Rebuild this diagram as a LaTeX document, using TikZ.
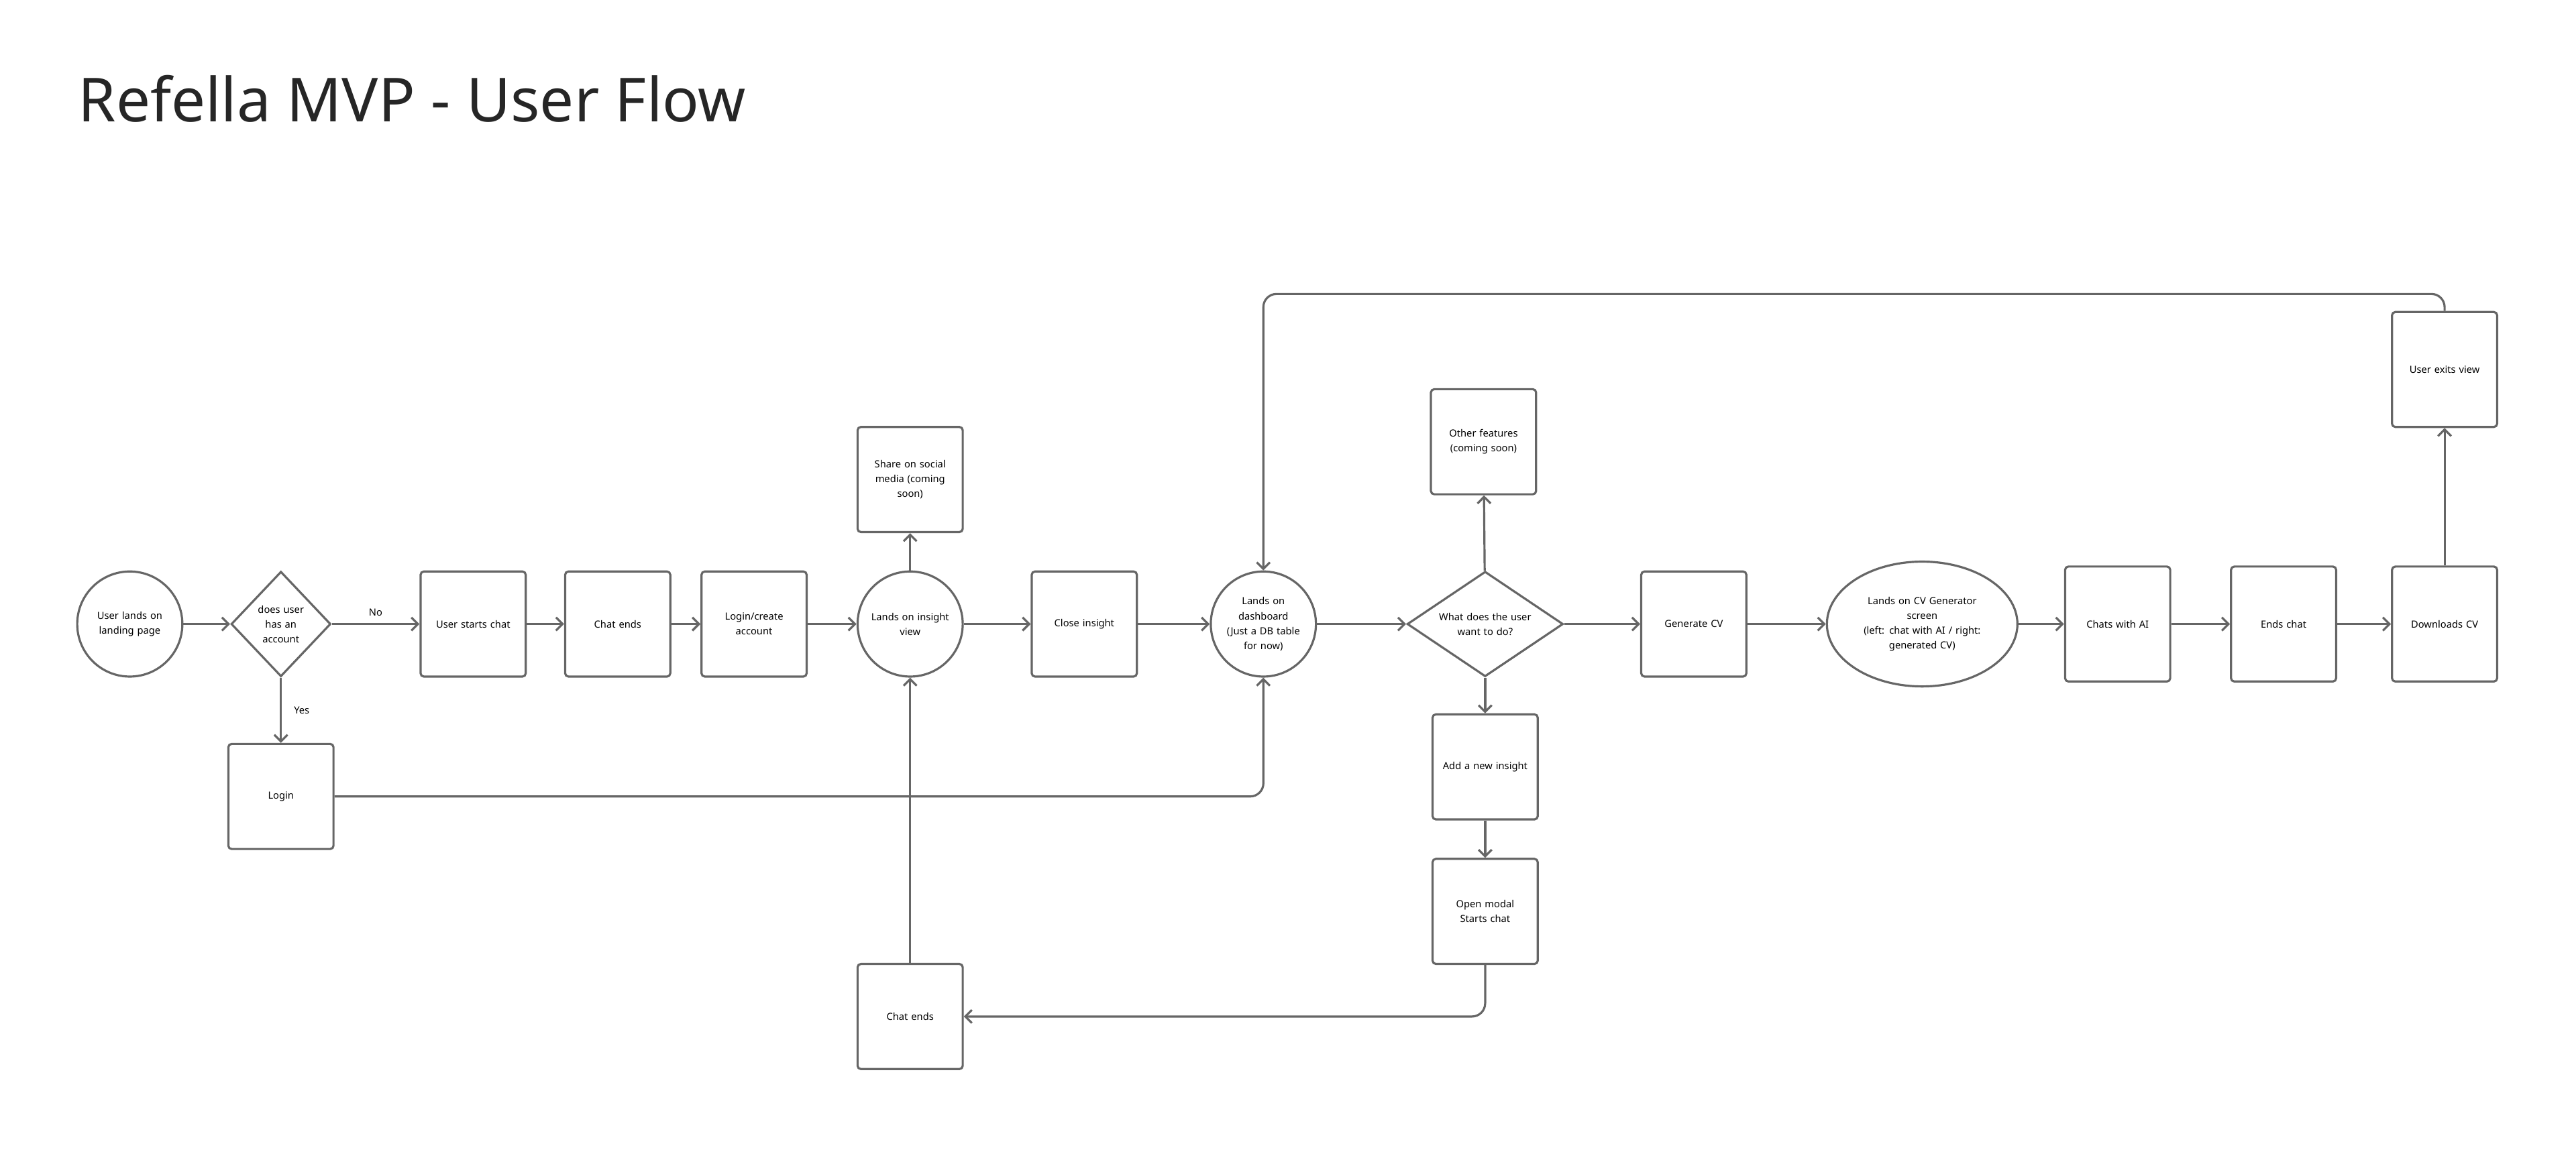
\documentclass[tikz,border=0pt]{standalone}
\usepackage{fontspec}
\setmainfont{Noto Sans}
\usetikzlibrary{arrows.meta,shapes.geometric,positioning}

\begin{document}
\begin{tikzpicture}[
  x=1pt, y=-1pt,
  line width=1.3pt,
  base/.style = {
    draw=black!60,
    fill=white,
    align=center,
    inner sep=1pt,
    font=\fontsize{6}{9}\selectfont
  },
  box/.style = {base, rectangle, rounded corners=2pt,
    minimum width=64pt, minimum height=#1, text width=58pt},
  box/.default = 64pt,
  circ/.style = {base, circle, minimum size=64pt, text width=50pt},
  dia/.style = {base, diamond, aspect=#1, minimum height=64pt},
  arr/.style = {draw=black!60, -{Straight Barb[length=4pt,width=8pt]}},
  lbl/.style = {font=\fontsize{6}{8}\selectfont},
  ]
  \useasboundingbox (0,0) rectangle (1568,700);
  \node[anchor=base west, font=\fontsize{37}{40}\selectfont, text=black!85, inner sep=0pt]
    (title) at (47,74) {Refella MVP - User Flow};

  % main row
  \node[circ] (landing) at (79,380) {User lands on\\landing page};
  \node[dia=1, text width=34pt] (hasAccount) at (171,380) {does user\\has an\\account};
  \node[box] (startChat) at (288,380) {User starts chat};
  \node[box] (chatEnds) at (376,380) {Chat ends};
  \node[box] (createAcc) at (459,380) {Login/create\\account};
  \node[circ] (insight) at (554,380) {Lands on insight\\view};
  \node[box] (closeInsight) at (660,380) {Close insight};
  \node[circ] (dashboard) at (769,380) {Lands on\\dashboard\\(Just a DB table\\for now)};
  \node[dia=1.85, text width=64pt] (userWants) at (904,380) {What does the user\\want to do?};
  \node[box] (genCV) at (1031,380) {Generate CV};
  \node[base, ellipse, minimum width=112pt, minimum height=76pt, text width=80pt]
    (cvScreen) at (1170,380) {Lands on CV Generator\\screen\\(left: chat with AI / right:\\generated CV)};
  \node[box=70pt] (chatsAI) at (1289,380) {Chats with AI};
  \node[box=70pt] (endsChat) at (1390,380) {Ends chat};
  \node[box=70pt] (download) at (1488,380) {Downloads CV};

  % branches
  \node[box] (login) at (171,485) {Login};
  \node[box] (share) at (554,292) {Share on social\\media (coming\\soon)};
  \node[box] (otherFeat) at (903,269) {Other features\\(coming soon)};
  \node[box] (addInsight) at (904,467) {Add a new insight};
  \node[box] (openModal) at (904,555) {Open modal\\Starts chat};
  \node[box] (chatEnds2) at (554,619) {Chat ends};
  \node[box=70pt] (exitView) at (1488,225) {User exits view};

  \coordinate (loopTop) at (1488,179);
  \coordinate (loginCorner) at (769,485);
  \coordinate (modalCorner) at (904,619);

  \draw[arr] (landing) -- (hasAccount);
  \draw[arr] (hasAccount) -- node[lbl, above=1pt] {No} (startChat);
  \draw[arr] (hasAccount) -- node[lbl, right=4pt] {Yes} (login);
  \draw[arr] (startChat) -- (chatEnds);
  \draw[arr] (chatEnds) -- (createAcc);
  \draw[arr] (createAcc) -- (insight);
  \draw[arr] (insight) -- (share);
  \draw[arr] (insight) -- (closeInsight);
  \draw[arr] (closeInsight) -- (dashboard);
  \draw[arr] (dashboard) -- (userWants);
  \draw[arr] (userWants) -- (otherFeat);
  \draw[arr] (userWants) -- (addInsight);
  \draw[arr] (userWants) -- (genCV);
  \draw[arr] (addInsight) -- (openModal);
  \draw[arr, rounded corners=8pt] (openModal) |- (chatEnds2);
  \draw[arr] (chatEnds2) -- (insight);
  \draw[arr, rounded corners=8pt] (login) -- (loginCorner) -- (dashboard);
  \draw[arr] (genCV) -- (cvScreen);
  \draw[arr] (cvScreen) -- (chatsAI);
  \draw[arr] (chatsAI) -- (endsChat);
  \draw[arr] (endsChat) -- (download);
  \draw[arr] (download) -- (exitView);
  \draw[arr, rounded corners=8pt] (exitView.north) -- (loopTop) -| (dashboard);
\end{tikzpicture}
\end{document}
